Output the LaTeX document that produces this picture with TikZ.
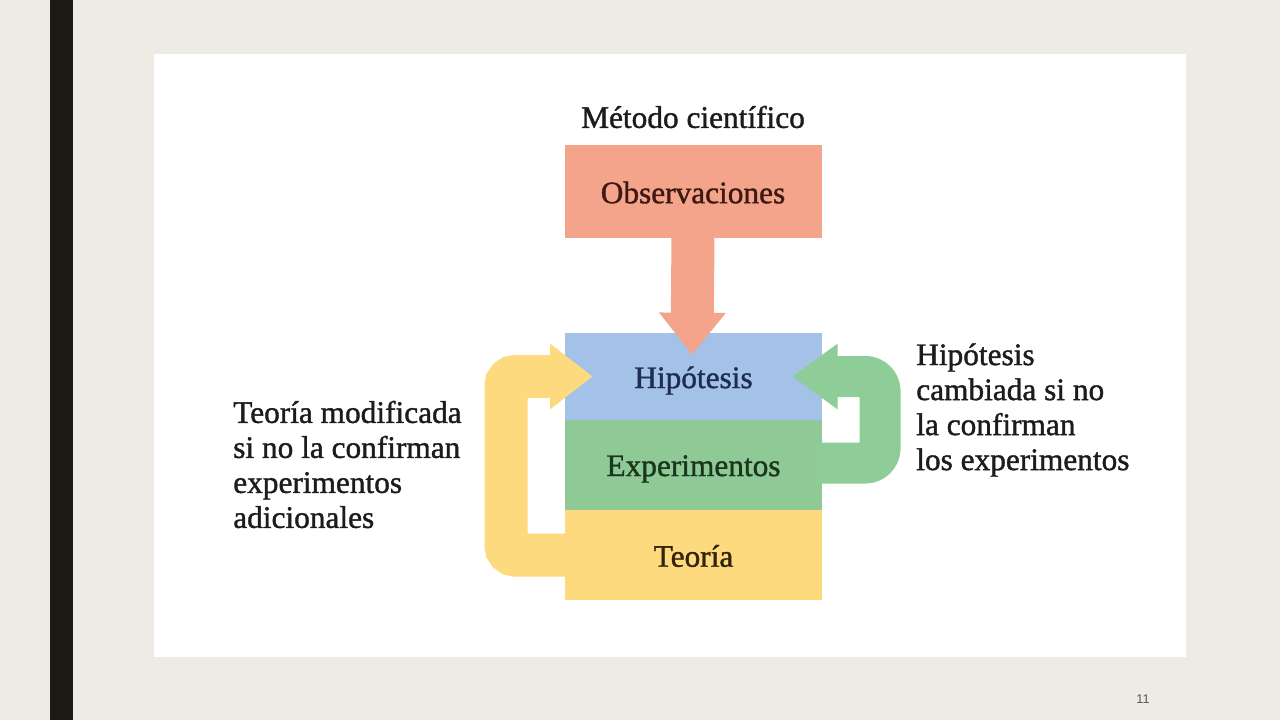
\documentclass[tikz,border=0pt]{standalone}
\usepackage{fontspec}
\setmainfont[FakeBold=1.2]{Liberation Serif}
\newfontfamily\serifbold[FakeBold=1.2]{Liberation Serif}
\setsansfont{Liberation Sans}
\usetikzlibrary{arrows.meta,calc}
\definecolor{bgc}{RGB}{238,235,228}
\definecolor{barc}{RGB}{27,27,19}
\definecolor{obsc}{RGB}{244,164,138}
\definecolor{hipc}{RGB}{164,194,232}
\definecolor{expc}{RGB}{143,201,150}
\definecolor{teoc}{RGB}{253,218,125}
\definecolor{greenarr}{RGB}{143,205,152}
\definecolor{obst}{RGB}{60,25,20}
\definecolor{hipt}{RGB}{30,45,80}
\definecolor{expt}{RGB}{25,55,30}
\definecolor{teot}{RGB}{50,35,10}
\definecolor{txt}{RGB}{28,28,28}
\begin{document}
\begin{tikzpicture}[x=0.75pt,y=-0.75pt,
  box/.style={inner sep=0pt, minimum width=192.75pt, font=\fontsize{23.5}{26}\selectfont},
  lbl/.style={inner sep=0pt, font=\serifbold\fontsize{23.5}{26}\selectfont},
  side/.style={inner sep=0pt, align=left, anchor=west, text=txt, font=\serifbold\fontsize{23.5}{26.25}\selectfont},
  obsarrow/.style={draw=obsc, line width=32.25pt, -{Triangle[width=48pt,length=31.5pt]}},
  yarrow/.style={draw=teoc, line width=32.25pt, rounded corners=7pt, -{Triangle[width=47pt,length=32pt]}},
  garrow/.style={draw=greenarr, line width=30.75pt, rounded corners=11pt, -{Triangle[width=47pt,length=34pt]}}
]
\useasboundingbox (0,0) rectangle (1280,720);
\fill[bgc] (0,0) rectangle (1280,720);
\fill[barc] (50,0) rectangle (73,720);
\fill[white] (154,54) rectangle (1186,657);

\node[lbl, text=txt] (title) at (693,117) {Método científico};

\node[box, fill=obsc, minimum height=69.75pt] (obs) at (693,191.5) {};
\node[box, fill=hipc, minimum height=65.25pt] (hip) at (693.5,376.5) {};
\node[box, fill=expc, minimum height=67.5pt] (exp) at (693.5,465) {};
\node[box, fill=teoc, minimum height=67.5pt] (teo) at (693.5,555) {};

\coordinate (ot) at ($(hip.north)+(-1.5,22)$);
\draw[obsarrow] ($(obs.south)+(0,-4)$) -- (ot);

\coordinate (yt) at ($(hip.west)+(28,0)$);
\draw[yarrow] ($(teo.west)+(6,0)$) -- (506,0 |- teo.west) -- (506,0 |- yt) -- (yt);

\coordinate (gt) at ($(hip.east)+(-30,0)$);
\draw[garrow] ($(exp.east)+(-6,-2)$) -- (880,463) -- (880,0 |- gt) -- (gt);

\node[lbl, text=obst] (obslabel) at ($(obs.center)+(0,1)$) {Observaciones};
\node[lbl, text=hipt] (hiplabel) at ($(hip.center)+(0,4)$) {Hipótesis};
\node[lbl, text=expt] (explabel) at ($(exp.center)+(0,4)$) {Experimentos};
\node[lbl, text=teot] (teolabel) at ($(teo.center)+(0,1)$) {Teoría};

\node[side] (left) at (233,464.5) {Teoría modificada\\si no la confirman\\experimentos\\adicionales};
\node[side] (right) at (916,410) {Hipótesis\\cambiada si no\\la confirman\\los experimentos};

\node[text=gray!70!black, font=\sffamily\fontsize{9.5}{11}\selectfont, inner sep=0pt] (pg) at (1143,699) {11};
\end{tikzpicture}
\end{document}
